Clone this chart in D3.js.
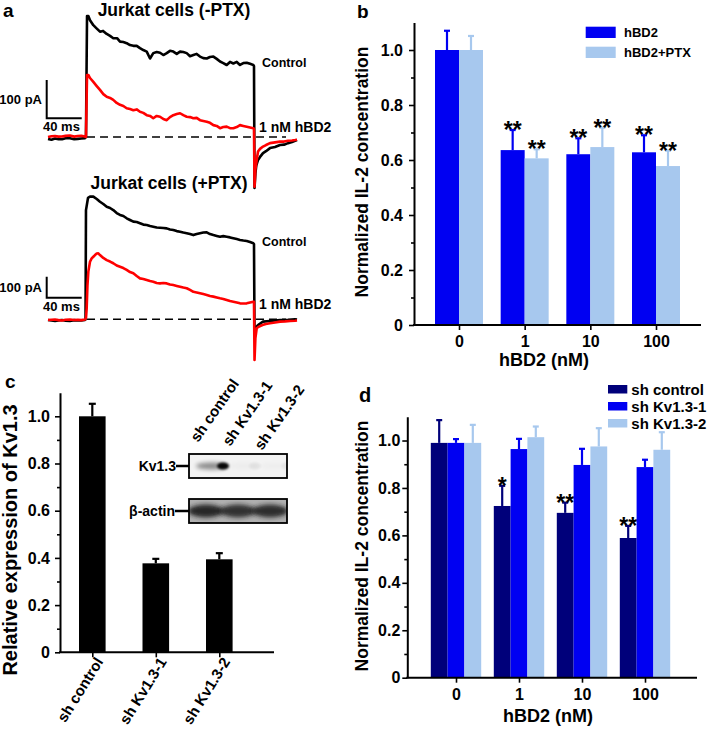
<!DOCTYPE html>
<html><head><meta charset="utf-8">
<script src="https://cdn.jsdelivr.net/npm/d3@7"></script>
<style>
body{margin:0;background:#fff}
svg{display:block}
text{font-family:"Liberation Sans",Arial,Helvetica,sans-serif;font-weight:bold;fill:#000}
</style></head>
<body><svg id="chart" width="708" height="729"></svg>
<script>
// ================= DATA =================
// Panel a: patch-clamp traces, [time (ms), current (pA)]
const aTopControl = [[0,-5],[4,-7],[8,-4],[12,-6],[16,-6],[20,-3],[25,-3],[30,-6],[34,-5],[38,-4],[42.3,-3],[43.4,0],[44.6,316],[46.1,316],[48,305],[51.8,292],[54.9,285],[59.4,275],[62.9,277],[67.1,269],[70.9,264],[74.6,258],[78.9,258],[82.3,249],[86.1,248],[89.9,245],[93.7,240],[97.5,238],[101.4,238],[105.1,232],[108.9,227],[112.8,223],[116.6,205],[120.3,219],[124.2,222],[128,220],[131.8,214],[135.7,219],[139.4,225],[143.2,223],[147.1,217],[150.9,223],[154.6,222],[158.5,219],[162.3,211],[166.1,214],[169.9,217],[173.7,210],[177.5,206],[181.4,205],[185.1,209],[189,210],[192.8,204],[196.6,197],[200.3,193],[204.2,188],[208,196],[211.8,192],[215.7,196],[219.4,188],[223.2,193],[227.1,194],[230.9,191],[234.6,188],[235.4,185],[236,-133],[237,-95],[238,-75],[240,-60],[242.3,-52],[245.7,-42],[249.1,-37],[253.7,-29],[259.4,-26],[265.1,-21],[269.7,-20],[274.3,-16],[278.9,-13],[282.3,-10],[284.6,-8]];
const aTopHBD2 = [[0,0],[4,2],[8,2.6],[12,1],[16,1.3],[20,3],[25,3.9],[30,1],[34,2.6],[38,3],[42.3,1.3],[43.4,0],[44.6,162],[46.1,162],[48,154],[51.8,144],[55.7,133],[59.4,123],[63.2,112],[67.1,105],[70.9,102],[74.6,97],[78.5,89],[82.3,84],[86.1,81],[89.9,75],[93.7,73],[97.5,70],[101.4,72],[105.1,66],[108.9,63],[112.8,57],[116.6,55],[120.3,49],[124.2,55],[128,53],[131.8,47],[135.7,44],[139.4,52],[143.2,57],[147.1,60],[150.9,62],[154.6,57],[158.5,53],[162.3,52],[166.1,49],[169.9,50],[173.7,44],[177.5,42],[181.4,40],[185.1,37],[189,31],[192.8,29],[196.6,23],[200.3,26],[204.2,27],[208,23],[211.8,23],[215.7,26],[219.4,31],[223.2,29],[227.1,27],[230.9,25],[234.6,23],[235.4,22],[236,-130],[237,-85],[238.5,-60],[240,-38],[242.3,-31],[245.7,-25],[249.1,-21],[253.7,-16],[259.4,-14],[265.1,-12],[269.7,-12],[274.3,-10],[278.9,-9],[282.3,-8],[284.6,-7]];
const aBotControl = [[0,-3],[4,-6],[8,-8],[12,-5],[16,-3],[20,-7],[25,-8],[30,-4],[34,-6],[38,-5],[42.3,-3],[42.9,0],[43.4,520],[45.7,578],[48,584],[51.8,584],[55.7,573],[59.4,560],[63.2,549],[67.1,536],[70.9,530],[74.6,520],[78.5,506],[82.3,497],[86.1,492],[89.9,481],[93.7,473],[97.5,465],[101.4,463],[105.1,457],[108.9,451],[112.8,449],[116.6,444],[120.3,441],[124.2,437],[128,436],[131.8,435],[135.7,433],[139.4,428],[143.2,425],[147.1,420],[150.9,417],[154.6,413],[158.5,410],[162.3,406],[166.1,401],[169.9,406],[173.7,410],[177.5,413],[181.4,414],[185.1,406],[189,401],[192.8,397],[196.6,393],[200.3,396],[204.2,393],[208,390],[211.8,386],[215.7,382],[219.4,378],[223.2,375],[227.1,373],[230.9,368],[234.6,362],[235.4,358],[236,-75],[237,-50],[238.5,-35],[240,-27],[245.7,-11],[253.7,-8],[265.1,-3],[274.3,-2],[282.3,0],[284.6,-1]];
const aBotHBD2 = [[0,-3],[4,-2],[8,-1],[12,-4],[16,-6],[20,-2],[25,-1],[30,-3],[34,-2],[38,-4],[42.3,-1],[43.4,6],[44.2,52],[45.1,163],[46.1,227],[48,274],[49.9,290],[51.8,298],[53.7,306],[55.7,313],[57.5,314],[59.4,306],[63.2,292],[67.1,282],[70.9,275],[74.6,267],[78.5,256],[82.3,250],[86.1,244],[89.9,235],[93.7,225],[97.5,219],[101.4,206],[105.1,195],[108.9,192],[112.8,187],[116.6,182],[120.3,179],[124.2,173],[128,171],[131.8,173],[135.7,171],[139.4,166],[143.2,163],[147.1,159],[150.9,155],[154.6,151],[158.5,148],[162.3,140],[166.1,131],[169.9,128],[173.7,124],[177.5,120],[181.4,116],[185.1,111],[189,108],[192.8,104],[196.6,100],[200.3,97],[204.2,92],[208,87],[211.8,84],[215.7,80],[219.4,76],[223.2,75],[227.1,76],[230.9,80],[234.6,84],[235.4,83],[236,-194],[237,-90],[238.5,-43],[240,-37],[245.1,-27],[248.9,-22],[253.7,-19],[259.4,-15],[265.1,-11],[270.9,-10],[276.6,-8],[282.3,-7],[284.6,-6]];
const aScaleBarPA = 100, aScaleBarMS = 40;

// Panel b
const bCats = ["0","1","10","100"];
const bSeries = ["hBD2","hBD2+PTX"];
const bHBD2 = [1.0,0.636,0.621,0.628];
const bHBD2Err = [0.07,0.073,0.058,0.062];
const bPTX = [1.0,0.606,0.647,0.578];
const bPTXErr = [0.051,0.033,0.07,0.056];
const bHBD2Stars = ["","**","**","**"];
const bPTXStars = ["","**","**","**"];

// Panel c
const cCats = ["sh control","sh Kv1.3-1","sh Kv1.3-2"];
const cVals = [1.0,0.377,0.394];
const cErr = [0.053,0.019,0.026];
const blotLanes = ["sh control","sh Kv1.3-1","sh Kv1.3-2"];
const blotKv13 = [0.95,0.05,0.04];
const blotActin = [0.92,0.85,0.88];

// Panel d
const dCats = ["0","1","10","100"];
const dSeries = ["sh control","sh Kv1.3-1","sh Kv1.3-2"];
const dShControl = [0.99,0.724,0.695,0.589];
const dShControlErr = [0.096,0.085,0.043,0.051];
const dShKv1 = [0.99,0.964,0.897,0.888];
const dShKv1Err = [0.016,0.043,0.068,0.031];
const dShKv2 = [0.99,1.014,0.975,0.961];
const dShKv2Err = [0.076,0.045,0.077,0.074];
const dShControlStars = ["","*","**","**"];

const majorTicks = [0,0.2,0.4,0.6,0.8,1.0];
const minorTicks = [0.1,0.3,0.5,0.7,0.9];

// ================= DRAWING =================
const svg = d3.select("#chart");
const FONT = '"Liberation Sans", Arial, Helvetica, sans-serif';
const fmt = v => v === 0 ? "0" : d3.format(".1f")(v);

const defs = svg.append("defs");
defs.append("filter").attr("id","blur2").attr("x","-50%").attr("y","-100%").attr("width","200%").attr("height","300%")
  .append("feGaussianBlur").attr("stdDeviation",2);
defs.append("filter").attr("id","blur1").attr("x","-50%").attr("y","-100%").attr("width","200%").attr("height","300%")
  .append("feGaussianBlur").attr("stdDeviation",1.2);

function label(t,x,y,size,anchor){
  return svg.append("text").attr("x",x).attr("y",y).attr("font-size",size)
    .attr("text-anchor",anchor||"start").text(t);
}
function styleAxis(g, size){
  g.attr("font-family",FONT).attr("font-size",size).attr("font-weight","bold");
  g.selectAll("line").attr("stroke","#000").attr("stroke-width",1.6);
  g.selectAll("path.domain").attr("stroke","#000").attr("stroke-width",2);
  g.selectAll("text").attr("fill","#000");
}
function yAxes(y, xPos, pad){
  const g1 = svg.append("g").attr("transform",`translate(${xPos},0)`)
    .call(d3.axisLeft(y).tickValues(majorTicks).tickFormat(fmt).tickSize(5).tickSizeOuter(0).tickPadding(pad));
  styleAxis(g1,16);
  const g2 = svg.append("g").attr("transform",`translate(${xPos},0)`)
    .call(d3.axisLeft(y).tickValues(minorTicks).tickFormat("").tickSize(3).tickSizeOuter(0));
  styleAxis(g2,16);
  g2.select("path.domain").remove();
}
function xAxis(x, y0, x0, x1, withLabels){
  svg.append("line").attr("x1",x0).attr("x2",x1).attr("y1",y0).attr("y2",y0)
    .attr("stroke","#000").attr("stroke-width",2);
  const g = svg.append("g").attr("transform",`translate(0,${y0})`)
    .call(d3.axisBottom(x).tickSize(5).tickSizeOuter(0).tickPadding(6));
  styleAxis(g,16);
  g.select("path.domain").remove();
  if(!withLabels) g.selectAll("text").remove();
  return g;
}
function bars(xc, sub, y, series, vals, errs, color, capW, stars, starSize){
  const bw = sub.bandwidth();
  const g = svg.append("g");
  vals.forEach((v,i)=>{
    const cat = xc.domain()[i];
    const x0 = xc(cat)+sub(series);
    const cx = x0 + bw/2;
    g.append("rect").attr("x",x0).attr("width",bw).attr("y",y(v)).attr("height",y(0)-y(v)).attr("fill",color);
    const top = y(v+errs[i]);
    g.append("line").attr("x1",cx).attr("x2",cx).attr("y1",y(v)).attr("y2",top).attr("stroke",color).attr("stroke-width",2.2);
    g.append("line").attr("x1",cx-capW/2).attr("x2",cx+capW/2).attr("y1",top).attr("y2",top).attr("stroke",color).attr("stroke-width",2.2);
    if(stars && stars[i]){
      g.append("text").attr("x",cx).attr("y",top+8).attr("text-anchor","middle").attr("font-size",starSize).text(stars[i]);
    }
  });
}

// ---------- Panel a ----------
const ax = d3.scaleLinear().domain([0,285]).range([48,297.4]);
const ayTop = d3.scaleLinear().domain([0,100]).range([137,98.7]);
const ayBot = d3.scaleLinear().domain([0,100]).range([319.3,298.3]);
function trace(data, y, color){
  svg.append("path").datum(data)
    .attr("d", d3.line().x(d=>ax(d[0])).y(d=>y(d[1])))
    .attr("fill","none").attr("stroke",color).attr("stroke-width",2.6).attr("stroke-linejoin","round");
}
function dashed(y){
  svg.append("line").attr("x1",ax(44.6)).attr("x2",ax(272)).attr("y1",y(0)).attr("y2",y(0))
    .attr("stroke","#000").attr("stroke-width",1.6).attr("stroke-dasharray","8,5");
}
function scaleBar(y, bx, by){
  const h = y(0)-y(aScaleBarPA), w = ax(aScaleBarMS)-ax(0);
  svg.append("path").attr("d",`M${bx},${by-h}V${by}H${bx+w}`).attr("fill","none").attr("stroke","#000").attr("stroke-width",2);
}
label("a",3,17,19);
label("Jurkat cells (-PTX)",174,16,17.5,"middle");
dashed(ayTop);
trace(aTopControl, ayTop, "#000");
trace(aTopHBD2, ayTop, "#ff0000");
scaleBar(ayTop, 46.7, 118.3);
label("100 pA",42,104,13,"end");
label("40 ms",43,131,13);
label("Control",262,67,12.5);
label("1 nM hBD2",259,132,14);

label("Jurkat cells (+PTX)",169,189,17.5,"middle");
dashed(ayBot);
trace(aBotControl, ayBot, "#000");
trace(aBotHBD2, ayBot, "#ff0000");
scaleBar(ayBot, 46.7, 297.7);
label("100 pA",42,292,13,"end");
label("40 ms",43,311,13);
label("Control",262,246,12.5);
label("1 nM hBD2",259,309,14);

// ---------- Panel b ----------
const bX = d3.scalePoint().domain(bCats).range([459,656]);
const bY = d3.scaleLinear().domain([0,1.1]).range([325,22.5]);
const bSub = d3.scaleBand().domain(bSeries).range([-24,24]);
const bColors = ["#0000f2","#a7c8ee"];
bars(bX,bSub,bY,bSeries[0],bHBD2,bHBD2Err,bColors[0],6,bHBD2Stars,23);
bars(bX,bSub,bY,bSeries[1],bPTX,bPTXErr,bColors[1],6,bPTXStars,23);
yAxes(bY,414,6);
xAxis(bX,325,413,701,true);
label("b",357,18,19);
svg.append("text").attr("transform","translate(368,172) rotate(-90)").attr("text-anchor","middle").attr("font-size",17.5).text("Normalized IL-2 concentration");
label("hBD2 (nM)",544,366,18,"middle");
bSeries.forEach((s,i)=>{
  svg.append("rect").attr("x",585.7).attr("y",26.7+i*20).attr("width",30).attr("height",11.3).attr("fill",bColors[i]);
  label(s,624,37+i*20,13);
});

// ---------- Panel c ----------
const cX = d3.scalePoint().domain(cCats).range([92.3,219.3]);
const cY = d3.scaleLinear().domain([0,1.1]).range([652.3,392.7]);
const cSub = d3.scaleBand().domain(["v"]).range([-13.3,13.3]);
bars(cX,cSub,cY,"v",cVals,cErr,"#000",7,null,0);
yAxes(cY,60,5);
xAxis(cX,652.3,59,274,false);
cCats.forEach(c=>{
  svg.append("text").attr("transform",`translate(${cX(c)+7},659) rotate(-58)`)
    .attr("text-anchor","end").attr("dy","0.35em").attr("font-size",15).text(c);
});
label("c",5,388,19);
svg.append("text").attr("transform","translate(17,540) rotate(-90)").attr("text-anchor","middle").attr("font-size",20).text("Relative expression of Kv1.3");

// western blot inset
const lane = d3.scaleBand().domain(blotLanes).range([190,286]);
const kvBox = {y:454,h:24}, acBox = {y:499,h:24};
const kvClip = defs.append("clipPath").attr("id","kvclip");
kvClip.append("rect").attr("x",189).attr("y",kvBox.y).attr("width",98).attr("height",kvBox.h);
const acClip = defs.append("clipPath").attr("id","acclip");
acClip.append("rect").attr("x",189).attr("y",acBox.y).attr("width",98).attr("height",acBox.h);
const kvG = svg.append("g").attr("clip-path","url(#kvclip)");
kvG.append("rect").attr("x",189).attr("y",kvBox.y).attr("width",98).attr("height",kvBox.h).attr("fill","#f3f3f3");
blotLanes.forEach((l,i)=>{
  const c = lane(l)+lane.bandwidth()/2;
  kvG.append("ellipse").attr("cx",c+6).attr("cy",kvBox.y+12).attr("rx",16).attr("ry",3.5)
    .attr("fill","#000").attr("opacity",blotKv13[i]*0.45).attr("filter","url(#blur2)");
  kvG.append("ellipse").attr("cx",c+17).attr("cy",kvBox.y+12).attr("rx",6).attr("ry",3.5)
    .attr("fill","#000").attr("opacity",blotKv13[i]).attr("filter","url(#blur1)");
});
const acG = svg.append("g").attr("clip-path","url(#acclip)");
acG.append("rect").attr("x",189).attr("y",acBox.y).attr("width",98).attr("height",acBox.h).attr("fill","#b0b0b0");
blotLanes.forEach((l,i)=>{
  const c = lane(l)+lane.bandwidth()/2;
  acG.append("ellipse").attr("cx",c).attr("cy",acBox.y+12).attr("rx",18).attr("ry",6.5)
    .attr("fill","#1e1e1e").attr("opacity",blotActin[i]).attr("filter","url(#blur2)");
});
[kvBox,acBox].forEach(b=>{
  svg.append("rect").attr("x",189).attr("y",b.y).attr("width",98).attr("height",b.h)
    .attr("fill","none").attr("stroke","#000").attr("stroke-width",1.8);
});
label("Kv1.3",176,kvBox.y+17,14,"end");
svg.append("line").attr("x1",176).attr("x2",189).attr("y1",kvBox.y+12).attr("y2",kvBox.y+12).attr("stroke","#000").attr("stroke-width",2.5);
label("β-actin",175,acBox.y+17,14,"end");
svg.append("line").attr("x1",175).attr("x2",189).attr("y1",acBox.y+12).attr("y2",acBox.y+12).attr("stroke","#000").attr("stroke-width",2.5);
blotLanes.forEach((l,i)=>{
  const c = lane(l)+lane.bandwidth()/2;
  svg.append("text").attr("transform",`translate(${c-8},${443+4*i}) rotate(-55)`).attr("font-size",15).text(l);
});

// ---------- Panel d ----------
const dX = d3.scalePoint().domain(dCats).range([456,645]);
const dY = d3.scaleLinear().domain([0,1.1]).range([677.7,416.8]);
const dSub = d3.scaleBand().domain(dSeries).range([-25.2,25.2]);
const dColors = ["#00007a","#0000f2","#a7c8ee"];
bars(dX,dSub,dY,dSeries[0],dShControl,dShControlErr,dColors[0],6,dShControlStars,23);
bars(dX,dSub,dY,dSeries[1],dShKv1,dShKv1Err,dColors[1],6,null,0);
bars(dX,dSub,dY,dSeries[2],dShKv2,dShKv2Err,dColors[2],6,null,0);
yAxes(dY,407.3,2);
xAxis(dX,677.7,406.3,697,true);
label("d",359,401.7,20);
svg.append("text").attr("transform","translate(368,546) rotate(-90)").attr("text-anchor","middle").attr("font-size",17.5).text("Normalized IL-2 concentration");
label("hBD2 (nM)",548,721.5,18,"middle");
dSeries.forEach((s,i)=>{
  svg.append("rect").attr("x",608).attr("y",385+i*17).attr("width",19.3).attr("height",8.5).attr("fill",dColors[i]);
  label(s,631.3,394.6+i*17,15);
});
</script></body></html>
